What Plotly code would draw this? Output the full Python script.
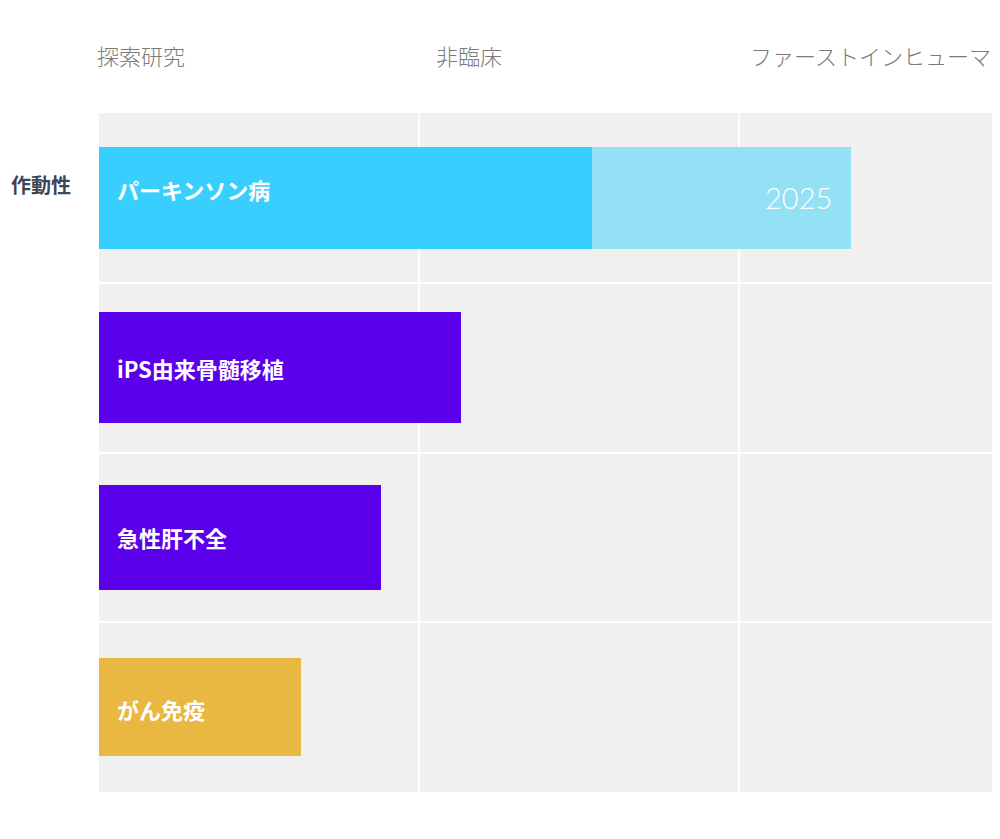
import plotly.graph_objects as go

# ---- data ----
phases = ["探索研究", "非臨床", "ファーストインヒューマ"]
programs = ["パーキンソン病", "iPS由来骨髄移植", "急性肝不全", "がん免疫"]
targets = ["作動性", "", "", ""]
progress = [1.54, 1.13, 0.88, 0.63]          # reached stage (phase units)
planned_end = [2.35, None, None, None]       # planned extension
planned_label = ["2025", "", "", ""]
bar_colors = ["#38CFFF", "#5B00EB", "#5B00EB", "#E9B843"]
planned_color = "#94E0F5"

# ---- styling ----
bar_thickness = [0.605, 0.655, 0.62, 0.58]
label_dy = [9, 0, 0, -2]
header_dx = [-4, 15, 9]

rows = list(range(len(programs)))
PX_PER_PHASE = 320
PLOT_W = 901
MARGIN_L = 91

fig = go.Figure()

# planned extension (light)
fig.add_trace(go.Bar(
    y=rows, x=[p if p is not None else 0 for p in planned_end], base=0,
    orientation="h", marker=dict(color=planned_color, line=dict(width=0)),
    width=bar_thickness, hoverinfo="skip", showlegend=False))

# reached stage
fig.add_trace(go.Bar(
    y=rows, x=progress, base=0, orientation="h",
    marker=dict(color=bar_colors, line=dict(width=0)),
    width=bar_thickness, hoverinfo="skip", showlegend=False))

ann = []
# program names inside bars
for r, name in zip(rows, programs):
    ann.append(dict(x=0, y=r, xref="x", yref="y", text=f"<b>{name}</b>",
                    showarrow=False, xanchor="left", yanchor="middle",
                    xshift=16, yshift=label_dy[r],
                    font=dict(family="Noto Sans CJK JP", size=22, color="white")))
# planned labels
for r, end, lab in zip(rows, planned_end, planned_label):
    if end is not None and lab:
        ann.append(dict(x=end, y=r, xref="x", yref="y", text=lab,
                        showarrow=False, xanchor="right", yanchor="middle",
                        xshift=-17, yshift=0,
                        font=dict(family="Lato", size=29, color="white", weight=300)))
# targets (left side)
for r, t in zip(rows, targets):
    if t:
        ann.append(dict(x=-MARGIN_L / PLOT_W, y=r, xref="paper", yref="y",
                        text=f"<b>{t}</b>", showarrow=False,
                        xanchor="left", yanchor="middle", xshift=1, yshift=13,
                        font=dict(family="Noto Sans CJK JP", size=20, color="#3B4658")))
# phase headers
for i, ph in enumerate(phases):
    ann.append(dict(x=i, y=1.085, xref="x", yref="paper", text=ph,
                    showarrow=False, xanchor="left", yanchor="middle",
                    xshift=header_dx[i],
                    font=dict(family="Noto Sans CJK JP", size=22, color="#7A7A7A", weight=300)))

fig.update_layout(
    width=992, height=815,
    margin=dict(l=MARGIN_L, r=0, t=105, b=31),
    paper_bgcolor="white", plot_bgcolor="#F0F0F0",
    barmode="overlay", bargap=0,
    annotations=ann,
    xaxis=dict(range=[0, PLOT_W / PX_PER_PHASE], tickvals=[1, 2],
               showticklabels=False, showgrid=True, gridcolor="white",
               gridwidth=2, zeroline=False, showline=False, fixedrange=True),
    yaxis=dict(range=[3.5, -0.5], tickvals=[0.5, 1.5, 2.5],
               showticklabels=False, showgrid=True, gridcolor="white",
               gridwidth=2, zeroline=False, showline=False, fixedrange=True),
)

fig.write_html("out.html")
